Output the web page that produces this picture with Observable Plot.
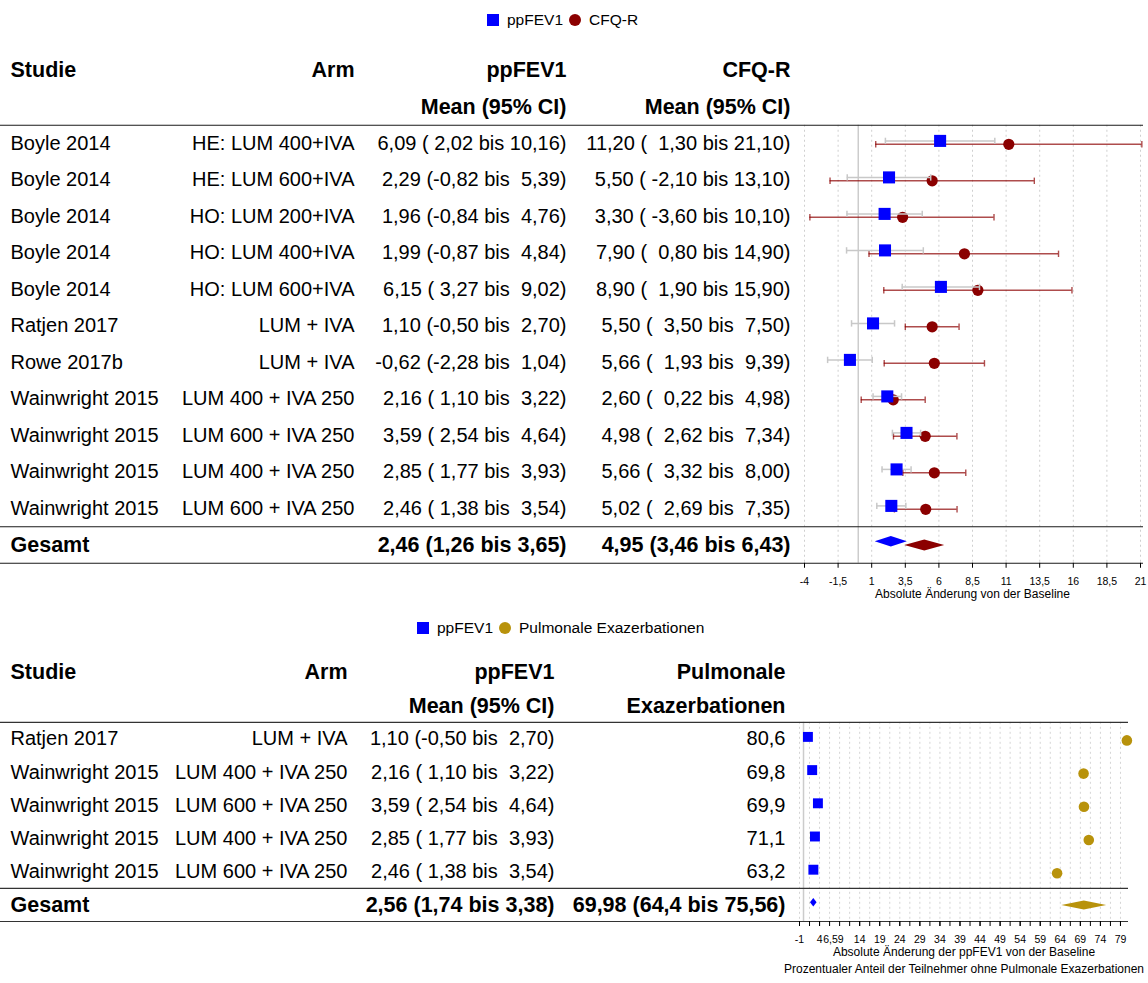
<!DOCTYPE html>
<html><head><meta charset="utf-8">
<script src="https://cdn.jsdelivr.net/npm/d3@7"></script>
<script src="https://cdn.jsdelivr.net/npm/@observablehq/plot@0.6"></script>
<style>
html,body{margin:0;padding:0;background:#fff;overflow:hidden;font-family:"Liberation Sans",Arial,sans-serif;}
svg text, svg tspan{white-space:pre;}
.legend{display:flex;align-items:center;font-size:15.5px;color:#000;box-sizing:border-box;}
.legend .sw{display:inline-block;width:12px;height:12px;margin-right:8px;}
.legend .lab{margin-right:6px;}
svg{display:block;}
</style></head><body><div id="root"></div><script>
// ---------- Panel 1 data ----------
const studies1 = ["Boyle 2014","Boyle 2014","Boyle 2014","Boyle 2014","Boyle 2014","Ratjen 2017","Rowe 2017b","Wainwright 2015","Wainwright 2015","Wainwright 2015","Wainwright 2015"];
const arms1 = ["HE: LUM 400+IVA","HE: LUM 600+IVA","HO: LUM 200+IVA","HO: LUM 400+IVA","HO: LUM 600+IVA","LUM + IVA","LUM + IVA","LUM 400 + IVA 250","LUM 600 + IVA 250","LUM 400 + IVA 250","LUM 600 + IVA 250"];
const fevMean1 = [6.09,2.29,1.96,1.99,6.15,1.10,-0.62,2.16,3.59,2.85,2.46];
const fevLo1 = [2.02,-0.82,-0.84,-0.87,3.27,-0.50,-2.28,1.10,2.54,1.77,1.38];
const fevHi1 = [10.16,5.39,4.76,4.84,9.02,2.70,1.04,3.22,4.64,3.93,3.54];
const cfqMean = [11.20,5.50,3.30,7.90,8.90,5.50,5.66,2.60,4.98,5.66,5.02];
const cfqLo = [1.30,-2.10,-3.60,0.80,1.90,3.50,1.93,0.22,2.62,3.32,2.69];
const cfqHi = [21.10,13.10,10.10,14.90,15.90,7.50,9.39,4.98,7.34,8.00,7.35];
const fevTotal1 = [2.46,1.26,3.65];
const cfqTotal = [4.95,3.46,6.43];
const ticks1 = [-4,-1.5,1,3.5,6,8.5,11,13.5,16,18.5,21];
const xTitle1 = "Absolute Änderung von der Baseline";
const series1 = ["ppFEV1","CFQ-R"];

// ---------- Panel 2 data ----------
const studies2 = ["Ratjen 2017","Wainwright 2015","Wainwright 2015","Wainwright 2015","Wainwright 2015"];
const arms2 = ["LUM + IVA","LUM 400 + IVA 250","LUM 600 + IVA 250","LUM 400 + IVA 250","LUM 600 + IVA 250"];
const fevMean2 = [1.10,2.16,3.59,2.85,2.46];
const fevLo2 = [-0.50,1.10,2.54,1.77,1.38];
const fevHi2 = [2.70,3.22,4.64,3.93,3.54];
const pulm = [80.6,69.8,69.9,71.1,63.2];
const fevTotal2 = [2.56,1.74,3.38];
const pulmTotal = [69.98,64.4,75.56];
const ticks2 = [-1,4,14,19,24,29,34,39,44,49,54,59,64,69,74,79];
const extraTick2 = [6.59];
const minorTicks2 = [-1,1.5,4,6.5,9,11.5,14,16.5,19,21.5,24,26.5,29,31.5,34,36.5,39,41.5,44,46.5,49,51.5,54,56.5,59,61.5,64,66.5,69,71.5,74,76.5,79];
const xTitle2a = "Absolute Änderung der ppFEV1 von der Baseline";
const xTitle2b = "Prozentualer Anteil der Teilnehmer ohne Pulmonale Exazerbationen";
const series2 = ["ppFEV1","Pulmonale Exazerbationen"];

// ---------- styling ----------
const BLUE = "#0000FF", RED = "#8B0000", GOLD = "#B8920B";
const FONT = "'Liberation Sans', Arial, sans-serif";
const fmt2 = v => v.toFixed(2).replace(".", ",");
const de = v => String(v).replace(".", ",");
const ciLab = (m, lo, hi, padLo) => `${fmt2(m)} (${fmt2(lo).padStart(padLo)} bis ${fmt2(hi).padStart(5)})`;
const totLab = ([m, lo, hi], f) => `${f(m)} (${f(lo)} bis ${f(hi)})`;
const capSym = {draw(ctx, size) { const h = Math.sqrt(size / Math.PI); ctx.moveTo(0, -h); ctx.lineTo(0, h); }};

function diamond([m, lo, hi], row, hUnits) {
  return [{y: row - hUnits, x1: m, x2: m}, {y: row, x1: lo, x2: hi}, {y: row + hUnits, x1: m, x2: m}];
}

function tableMarks(headers, rows, totals, cols, ml) {
  const marks = [];
  for (const c of cols) {
    const o = {frameAnchor: "left", dx: c.x - ml, textAnchor: c.anchor, fill: "#000", y: "i"};
    marks.push(Plot.text(headers.filter(h => h.col === c.key), {...o, text: "text", fontSize: 21.5, fontWeight: "bold"}));
    marks.push(Plot.text(rows, {...o, text: c.key, fontSize: 20}));
    marks.push(Plot.text(totals.filter(t => t.col === c.key), {...o, text: "text", fontSize: 21.5, fontWeight: "bold"}));
  }
  return marks;
}

function legend(names, shapes, colors, padLeft, h) {
  const d = document.createElement("div");
  d.className = "legend";
  d.style.height = h + "px";
  d.style.paddingLeft = padLeft + "px";
  names.forEach((nm, k) => {
    const s = document.createElement("span");
    s.className = "sw";
    s.style.background = colors[k];
    if (shapes[k] === "circle") s.style.borderRadius = "50%";
    const t = document.createElement("span");
    t.className = "lab";
    t.textContent = nm;
    d.appendChild(s); d.appendChild(t);
  });
  return d;
}

const root = document.getElementById("root");

// ---------- Panel 1 ----------
{
  const n = studies1.length, g = n + 2, step = 36.5, y0 = 30, ml = 804, H = 570;
  const rows = studies1.map((s, k) => ({
    i: k + 2, study: s, arm: arms1[k],
    c1: ciLab(fevMean1[k], fevLo1[k], fevHi1[k], 5),
    c2: ciLab(cfqMean[k], cfqLo[k], cfqHi[k], 6),
    fm: fevMean1[k], fl: fevLo1[k], fh: fevHi1[k],
    cm: cfqMean[k], cl: cfqLo[k], ch: cfqHi[k]
  }));
  const headers = [
    {i: 0, col: "study", text: "Studie"}, {i: 0, col: "arm", text: "Arm"},
    {i: 0, col: "c1", text: "ppFEV1"}, {i: 0, col: "c2", text: "CFQ-R"},
    {i: 1, col: "c1", text: "Mean (95% CI)"}, {i: 1, col: "c2", text: "Mean (95% CI)"}
  ];
  const totals = [
    {i: g, col: "study", text: "Gesamt"},
    {i: g, col: "c1", text: totLab(fevTotal1, fmt2)},
    {i: g, col: "c2", text: totLab(cfqTotal, fmt2)}
  ];
  const cols = [
    {key: "study", x: 10, anchor: "start"}, {key: "arm", x: 354, anchor: "end"},
    {key: "c1", x: 566, anchor: "end"}, {key: "c2", x: 790, anchor: "end"}
  ];
  const yMax = y0 + step * (g + 0.5);
  root.appendChild(legend(series1, ["square", "circle"], [BLUE, RED], 487, 40));
  const p = Plot.plot({
    width: 1148, height: H,
    marginLeft: ml, marginRight: 8, marginTop: y0, marginBottom: H - yMax,
    style: {fontFamily: FONT, background: "#fff", overflow: "visible"},
    x: {domain: [ticks1[0], ticks1[ticks1.length - 1]]},
    y: {domain: [0, g + 0.5], range: [y0, yMax], axis: null},
    marks: [
      Plot.ruleX(ticks1, {y1: 1.5, y2: g + 0.5, stroke: "#cfcfcf", strokeDasharray: "2,3"}),
      Plot.ruleX([0], {y1: 1.5, y2: g + 0.5, stroke: "#cccccc", strokeWidth: 1.5}),
      Plot.ruleY([1.5, n + 1.5, g + 0.5], {stroke: "#1a1a1a", strokeWidth: 1.2, insetLeft: -ml, insetRight: -3}),
      ...tableMarks(headers, rows, totals, cols, ml),
      // CFQ-R
      Plot.ruleY(rows, {x1: "cl", x2: "ch", y: "i", dy: 0.8, stroke: RED, strokeOpacity: 0.7, strokeWidth: 1.4}),
      Plot.dot(rows, {x: "cl", y: "i", dy: 0.8, symbol: capSym, r: 3.2, stroke: RED, strokeOpacity: 0.7, strokeWidth: 1.4}),
      Plot.dot(rows, {x: "ch", y: "i", dy: 0.8, symbol: capSym, r: 3.2, stroke: RED, strokeOpacity: 0.7, strokeWidth: 1.4}),
      Plot.dot(rows, {x: "cm", y: "i", dy: 0.8, r: 5.6, fill: RED}),
      // ppFEV1
      Plot.ruleY(rows, {x1: "fl", x2: "fh", y: "i", dy: -2.6, stroke: "#c8c8c8", strokeWidth: 1.5}),
      Plot.dot(rows, {x: "fl", y: "i", dy: -2.6, symbol: capSym, r: 3.2, stroke: "#c8c8c8", strokeWidth: 1.5}),
      Plot.dot(rows, {x: "fh", y: "i", dy: -2.6, symbol: capSym, r: 3.2, stroke: "#c8c8c8", strokeWidth: 1.5}),
      Plot.dot(rows, {x: "fm", y: "i", dy: -2.6, symbol: "square", r: 6.8, fill: BLUE}),
      // totals
      Plot.areaX(diamond(fevTotal1, g, 5.3 / step), {x1: "x1", x2: "x2", y: "y", dy: -3.3, fill: BLUE}),
      Plot.areaX(diamond(cfqTotal, g, 5.5 / step), {x1: "x1", x2: "x2", y: "y", dy: 0.5, fill: RED}),
      Plot.axisX({ticks: ticks1, tickFormat: de, tickSize: 5, tickPadding: 9, fontSize: 10.5, label: null}),
      Plot.text([xTitle1], {frameAnchor: "bottom", lineAnchor: "middle", dy: 31, fontSize: 12, fill: "#000"})
    ]
  });
  root.appendChild(p);
}

// ---------- Panel 2 ----------
{
  const n = studies2.length, g = n + 2, step = 33.2, y0 = 26, ml = 799, H = 337;
  const rows = studies2.map((s, k) => ({
    i: k + 2, study: s, arm: arms2[k],
    c1: ciLab(fevMean2[k], fevLo2[k], fevHi2[k], 5),
    c2: de(pulm[k]),
    fm: fevMean2[k], p: pulm[k]
  }));
  const headers = [
    {i: 0, col: "study", text: "Studie"}, {i: 0, col: "arm", text: "Arm"},
    {i: 0, col: "c1", text: "ppFEV1"}, {i: 0, col: "c2", text: "Pulmonale"},
    {i: 1, col: "c1", text: "Mean (95% CI)"}, {i: 1, col: "c2", text: "Exazerbationen"}
  ];
  const totals = [
    {i: g, col: "study", text: "Gesamt"},
    {i: g, col: "c1", text: totLab(fevTotal2, fmt2)},
    {i: g, col: "c2", text: totLab(pulmTotal, de)}
  ];
  const cols = [
    {key: "study", x: 10, anchor: "start"}, {key: "arm", x: 347, anchor: "end"},
    {key: "c1", x: 554, anchor: "end"}, {key: "c2", x: 785, anchor: "end"}
  ];
  const yMax = y0 + step * (g + 0.5);
  root.appendChild(legend(series2, ["square", "circle"], [BLUE, GOLD], 417, 36));
  const p = Plot.plot({
    width: 1148, height: H,
    marginLeft: ml, marginRight: 20, marginTop: y0, marginBottom: H - yMax,
    style: {fontFamily: FONT, background: "#fff", overflow: "visible"},
    x: {domain: [-1, 81]},
    y: {domain: [0, g + 0.5], range: [y0, yMax], axis: null},
    marks: [
      Plot.ruleX(minorTicks2, {y1: 1.5, y2: g + 0.5, stroke: "#d4d4d4", strokeDasharray: "2,3"}),
      Plot.ruleX([0], {y1: 1.5, y2: g + 0.5, stroke: "#cccccc", strokeWidth: 1.5}),
      Plot.ruleY([1.5, n + 1.5, g + 0.5], {stroke: "#333", strokeWidth: 1.2, insetLeft: -ml}),
      ...tableMarks(headers, rows, totals, cols, ml),
      Plot.dot(rows, {x: "p", y: "i", dy: 1.5, r: 5.3, fill: GOLD}),
      Plot.dot(rows, {x: "fm", y: "i", dy: -2, symbol: "square", r: 5.6, fill: BLUE}),
      Plot.areaX(diamond(fevTotal2, g, 4.2 / step), {x1: "x1", x2: "x2", y: "y", dy: -2.2, fill: BLUE}),
      Plot.areaX(diamond(pulmTotal, g, 4.5 / step), {x1: "x1", x2: "x2", y: "y", dy: 0.5, fill: GOLD}),
      Plot.axisX({ticks: minorTicks2, tickFormat: () => "", tickSize: 5, label: null}),
      Plot.axisX({ticks: ticks2, tickFormat: de, tickSize: 5, tickPadding: 9, fontSize: 10.5, label: null}),
      Plot.axisX({ticks: extraTick2, tickFormat: de, tickSize: 0, tickPadding: 14, fontSize: 10.5, dx: 3.5, label: null}),
      Plot.text([xTitle2a], {frameAnchor: "bottom", lineAnchor: "middle", dy: 30.5, fontSize: 12, fill: "#000"}),
      Plot.text([xTitle2b], {frameAnchor: "bottom", lineAnchor: "middle", dy: 48, fontSize: 12, fill: "#000"})
    ]
  });
  root.appendChild(p);
}
</script></body></html>
